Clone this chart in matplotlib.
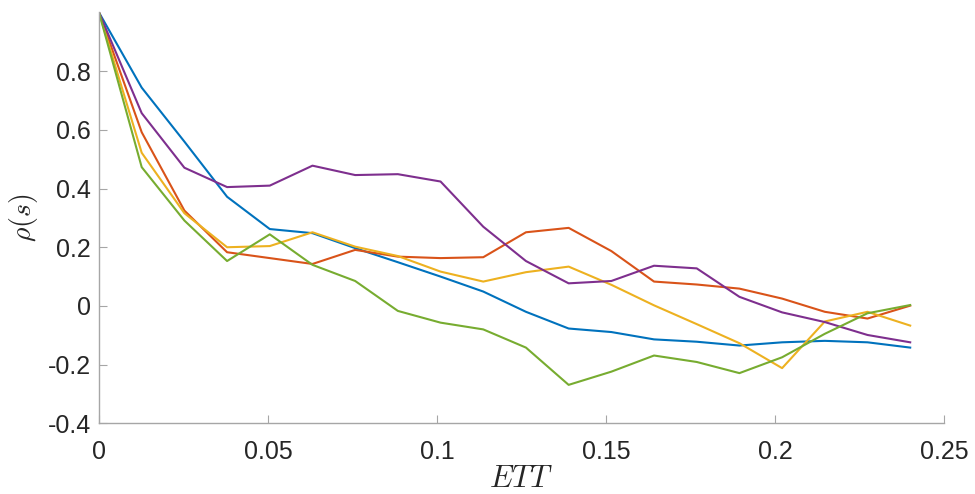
import numpy as np
import matplotlib
matplotlib.use("Agg")
import matplotlib.pyplot as plt
from matplotlib.ticker import FuncFormatter

plt.rcParams['font.family'] = ['Liberation Sans', 'DejaVu Sans']
plt.rcParams['mathtext.fontset'] = 'cm'
plt.rcParams['axes.unicode_minus'] = False

# ---- data ----
ett = np.linspace(0, 0.24, 20)

blue = [1.0, 0.744, 0.56, 0.372, 0.262, 0.248, 0.197, 0.149, 0.10, 0.049,
        -0.02, -0.077, -0.089, -0.114, -0.122, -0.135, -0.124, -0.119, -0.124, -0.142]
orange = [1.0, 0.592, 0.325, 0.183, 0.163, 0.143, 0.191, 0.168, 0.163, 0.166,
          0.251, 0.266, 0.187, 0.083, 0.073, 0.059, 0.025, -0.020, -0.043, 0.001]
yellow = [1.0, 0.522, 0.316, 0.200, 0.204, 0.251, 0.202, 0.170, 0.117, 0.083,
          0.115, 0.134, 0.072, 0.002, -0.062, -0.127, -0.212, -0.053, -0.020, -0.067]
purple = [1.0, 0.657, 0.471, 0.405, 0.410, 0.478, 0.446, 0.449, 0.424, 0.270,
          0.153, 0.077, 0.085, 0.137, 0.128, 0.031, -0.022, -0.055, -0.099, -0.124]
green = [1.0, 0.473, 0.291, 0.153, 0.244, 0.140, 0.085, -0.017, -0.057, -0.080,
         -0.142, -0.269, -0.224, -0.169, -0.191, -0.229, -0.175, -0.095, -0.025, 0.003]

series = [blue, orange, yellow, purple, green]
colors = ['#0072BD', '#D95319', '#EDB120', '#7E2F8E', '#77AC30']

xticks = [0, 0.05, 0.1, 0.15, 0.2, 0.25]
yticks = [-0.4, -0.2, 0, 0.2, 0.4, 0.6, 0.8]

# ---- figure ----
fig = plt.figure(figsize=(9.75, 4.94), dpi=100)
ax = fig.add_axes([99/975, 1 - 423.3/494, (944 - 99)/975, (423.3 - 12.5)/494])

for s, c in zip(series, colors):
    ax.plot(ett, s, color=c, linewidth=1.5)

ax.set_xlim(0, 0.25)
ax.set_ylim(-0.4, 1.0)
ax.set_xticks(xticks)
ax.set_yticks(yticks)
fmt = FuncFormatter(lambda v, p: ('%g' % round(v, 4)))
ax.xaxis.set_major_formatter(fmt)
ax.yaxis.set_major_formatter(fmt)

for side in ['top', 'right']:
    ax.spines[side].set_visible(False)
for side in ['left', 'bottom']:
    ax.spines[side].set_color('#a6a6a6')
    ax.spines[side].set_linewidth(1.0)

ax.tick_params(axis='both', direction='in', length=6, width=0.8,
               color='#a6a6a6', labelcolor='#262626', labelsize=18)
ax.tick_params(axis='x', pad=12)
ax.tick_params(axis='y', pad=6)

ax.set_xlabel(r'$ETT$', fontsize=22, color='#262626', labelpad=0)
ax.set_ylabel(r'$\rho(s)$', fontsize=20, color='#262626', labelpad=5)

fig.savefig('out.png', dpi=100)
